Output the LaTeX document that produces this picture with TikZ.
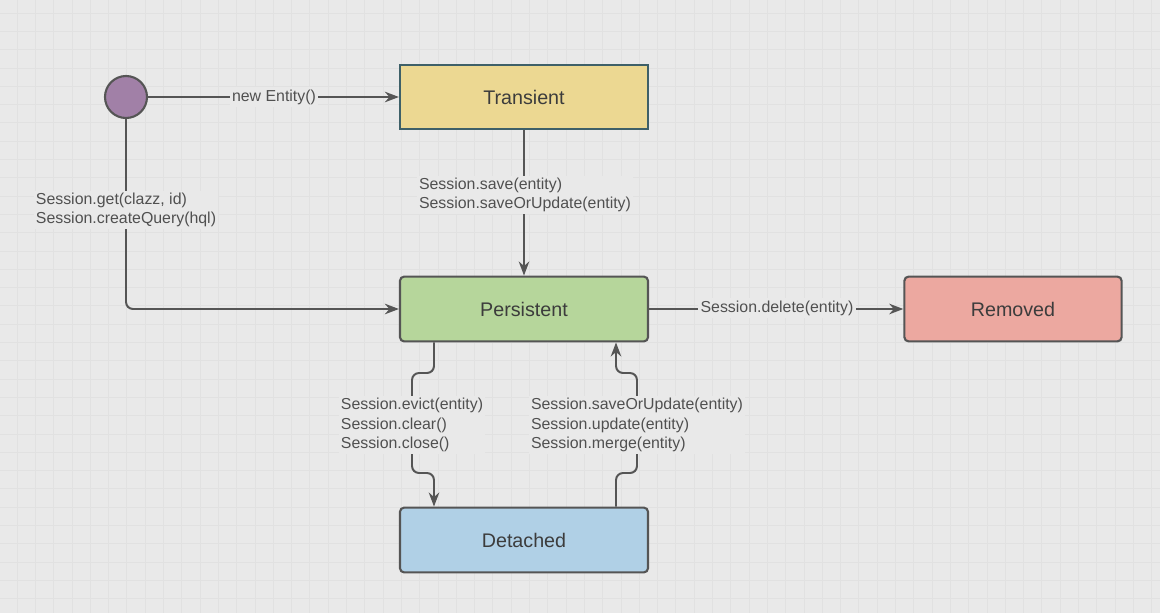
\documentclass[tikz,border=0pt]{standalone}
\usepackage{fontspec}
\setmainfont{Liberation Sans}
\usetikzlibrary{arrows.meta,positioning}
\definecolor{canvasgray}{RGB}{233,233,233}
\definecolor{gridgray}{RGB}{225,225,225}
\definecolor{edgegray}{RGB}{85,85,85}
\definecolor{labelgray}{RGB}{80,80,80}
\definecolor{textgray}{RGB}{60,60,60}
\definecolor{selectslate}{RGB}{62,96,104}
\definecolor{startpurple}{RGB}{161,128,167}
\definecolor{transientyellow}{RGB}{236,216,146}
\definecolor{persistgreen}{RGB}{182,214,155}
\definecolor{removedred}{RGB}{236,168,160}
\definecolor{detachedblue}{RGB}{176,208,230}

\begin{document}
\begin{tikzpicture}[>={Stealth[length=10pt,width=7.5pt]},x=0.025cm,y=-0.025cm,
  state/.style={draw=edgegray,line width=1.5pt,rounded corners=3pt,
    minimum width=6.2cm,minimum height=1.62cm,text=textgray,
    font=\fontsize{14}{16}\selectfont},
  conn/.style={draw=edgegray,line width=1.4pt},
  calllabel/.style={fill=canvasgray,inner sep=1.5pt,align=left,
    text=labelgray,font=\fontsize{11.3}{13.8}\selectfont}]

  %-------------------- Tło z siatką --------------------
  \fill[canvasgray] (0,0) rectangle (1160,613);
  \useasboundingbox (0,0) rectangle (1160,613);
  \foreach \i in {0,...,63}{
      \draw[gridgray,line width=0.5pt] ({17+\i*18.3},0) -- ({17+\i*18.3},613);
  }
  \foreach \j in {0,...,33}{
      \draw[gridgray,line width=0.5pt] (0,{13+\j*18.3}) -- (1160,{13+\j*18.3});
  }

  %-------------------- Stany --------------------
  \node[circle,fill=startpurple,draw=edgegray,line width=1.5pt,
        minimum size=1.05cm] (start) at (126,97) {};

  \node[state,fill=transientyellow,draw=selectslate,rounded corners=0pt]
      (transient) at (524,97) {Transient};
  \node[state,fill=persistgreen] (persist) at (524,309) {Persistent};
  \node[state,fill=removedred,minimum width=5.43cm]
      (removed) at (1013,309) {Removed};
  \node[state,fill=detachedblue] (detached) at (524,540) {Detached};

  % Punkty załamań
  \coordinate (evbend) at (434,373);
  \coordinate (evmid)  at (412,425);
  \coordinate (evlow)  at (434,473);
  \coordinate (mglow)  at (616,473);
  \coordinate (mgmid)  at (637,425);
  \coordinate (mgtop)  at (616,373);

  %-------------------- Przejścia --------------------
  \draw[conn,->] (start.east) -- (transient.west);
  \draw[conn,->] (transient.south) -- (persist.north);
  \draw[conn,->,rounded corners=5pt] (start.south) |- (persist.west);
  \draw[conn,->] (persist.east) -- (removed.west);

  % Persistent -> Detached
  \draw[conn,->,rounded corners=5pt]
      (evbend |- persist.south) -- (evbend) -| (evmid)
      |- (evlow) -- (evlow |- detached.north);

  % Detached -> Persistent
  \draw[conn,->,rounded corners=5pt]
      (mglow |- detached.north) -- (mglow) -| (mgmid)
      |- (mgtop) -- (mgtop |- persist.south);

  %-------------------- Opisy przejść --------------------
  \node[calllabel] (newlbl) at (274,97) {new Entity()};
  \node[calllabel] (savelbl) at (525,195)
      {Session.save(entity)\\Session.saveOrUpdate(entity)};
  \node[calllabel] (getlbl) at (126,210)
      {Session.get(clazz, id)\\Session.createQuery(hql)};
  \node[calllabel] (deletelbl) at (777,308) {Session.delete(entity)};
  \node[calllabel] (evictlbl) at (evmid)
      {Session.evict(entity)\\Session.clear()\\Session.close()};
  \node[calllabel] (mergelbl) at (mgmid)
      {Session.saveOrUpdate(entity)\\Session.update(entity)\\Session.merge(entity)};

\end{tikzpicture}
\end{document}
